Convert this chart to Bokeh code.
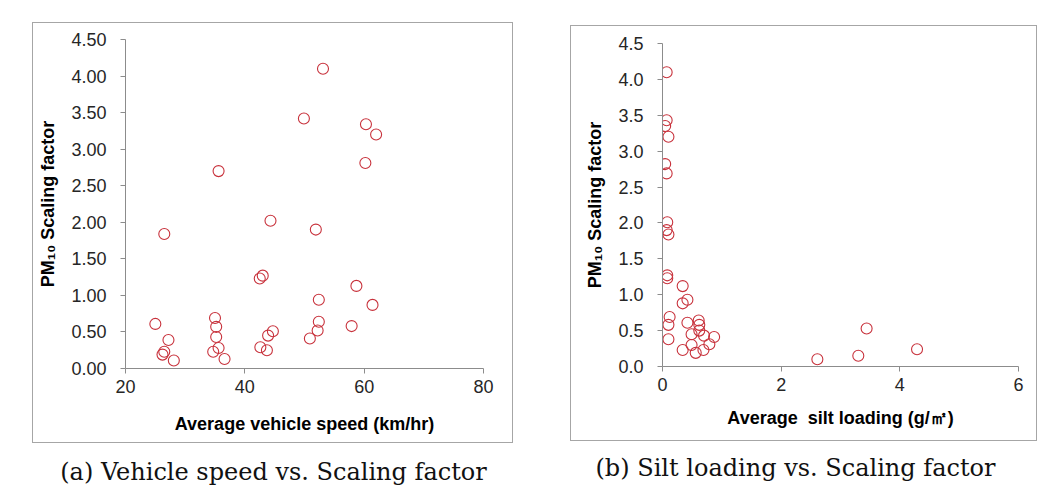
from bokeh.plotting import figure
from bokeh.models import Range1d, FixedTicker, NumeralTickFormatter, Spacer, Label
from bokeh.layouts import row, column
from bokeh.embed import file_html
from bokeh.resources import INLINE

# (a) vehicle speed vs scaling factor
speed = [53.1, 49.9, 60.3, 62.0, 60.2, 35.6, 44.3, 51.9, 26.5, 42.5, 43.0, 58.7, 52.4,
         61.4, 25.0, 35.0, 35.2, 35.2, 34.7, 35.6, 36.6, 27.2, 26.2, 26.5, 28.1, 42.6,
         43.7, 43.9, 44.7, 50.9, 52.4, 52.2, 57.9]
sf_speed = [4.10, 3.42, 3.34, 3.20, 2.81, 2.70, 2.02, 1.90, 1.84, 1.23, 1.27, 1.13, 0.94,
            0.87, 0.61, 0.69, 0.57, 0.43, 0.23, 0.28, 0.13, 0.39, 0.19, 0.23, 0.11, 0.29,
            0.25, 0.45, 0.51, 0.41, 0.64, 0.52, 0.58]

# (b) silt loading vs scaling factor
silt = [0.07, 0.07, 0.045, 0.10, 0.045, 0.07, 0.08, 0.07, 0.10, 0.08, 0.08, 0.34, 0.42,
        0.34, 0.12, 0.10, 0.10, 0.42, 0.61, 0.62, 0.62, 0.49, 0.70, 0.87, 0.34, 0.49,
        0.56, 0.69, 0.79, 2.61, 3.30, 3.44, 4.29]
sf_silt = [4.10, 3.43, 3.35, 3.20, 2.82, 2.69, 2.01, 1.90, 1.84, 1.27, 1.23, 1.12, 0.93,
           0.88, 0.69, 0.58, 0.38, 0.61, 0.64, 0.58, 0.50, 0.45, 0.43, 0.41, 0.23, 0.30,
           0.19, 0.23, 0.31, 0.10, 0.15, 0.53, 0.24]

xticks_a = [20, 40, 60, 80]
yticks_a = [0, 0.5, 1.0, 1.5, 2.0, 2.5, 3.0, 3.5, 4.0, 4.5]
xticks_b = [0, 2, 4, 6]
yticks_b = [0, 0.5, 1.0, 1.5, 2.0, 2.5, 3.0, 3.5, 4.0, 4.5]

xlabel_a = "Average vehicle speed (km/hr)"
xlabel_b = "Average\u00a0 silt loading (g/\u33a1)"
ylabel = "PM\u2081\u2080 Scaling factor"
caption_a = "(a) Vehicle speed vs. Scaling factor"
caption_b = "(b) Silt loading vs. Scaling factor"

AX = "#8c8c8c"
TXT = "#262626"
RED = "#C8323C"


def panel(xs, ys, xr, yr, xt, yt, yfmt, xlabel, fw, fh, bl, br, bt, bb, xls):
    p = figure(frame_width=fw, frame_height=fh,
               x_range=Range1d(*xr), y_range=Range1d(*yr),
               output_backend="svg", toolbar_location=None,
               min_border_left=bl, min_border_right=br,
               min_border_top=bt, min_border_bottom=bb)
    p.scatter(xs, ys, marker="circle", size=11, fill_color=None,
              line_color=RED, line_width=1.1)
    p.outline_line_color = None
    p.border_fill_color = None
    p.background_fill_color = None
    p.xgrid.visible = False
    p.ygrid.visible = False
    for ax in (p.xaxis[0], p.yaxis[0]):
        ax.axis_line_color = AX
        ax.major_tick_line_color = AX
        ax.major_tick_out = 5
        ax.major_tick_in = 0
        ax.minor_tick_line_color = None
        ax.major_label_text_font = "Liberation Sans"
        ax.major_label_text_font_size = "18px"
        ax.major_label_text_color = TXT
        ax.axis_label_text_font = "Liberation Sans"
        ax.axis_label_text_font_size = "18px"
        ax.axis_label_text_font_style = "bold"
        ax.axis_label_text_color = "#000000"
    p.xaxis.ticker = FixedTicker(ticks=xt)
    p.yaxis.ticker = FixedTicker(ticks=yt)
    p.yaxis.formatter = NumeralTickFormatter(format=yfmt)
    p.xaxis.major_label_standoff = 6
    p.yaxis.major_label_standoff = 14
    p.xaxis.axis_label = xlabel
    p.yaxis.axis_label = ylabel
    p.xaxis.axis_label_standoff = xls
    p.yaxis.axis_label_standoff = 10
    p.styles = {"outline": "1px solid #a6a6a6", "outline-offset": "-1px"}
    return p


p1 = panel(speed, sf_speed, (20, 80), (0, 4.5), xticks_a, yticks_a, "0.00", xlabel_a,
           358, 329, 93, 30, 17, 75, 18)
p2 = panel(silt, sf_silt, (0, 6), (0, 4.5), xticks_b, yticks_b, "0.0", xlabel_b,
           356, 323, 92, 19, 18, 75, 14)

cap = figure(width=1045, height=46, x_range=Range1d(0, 1045), y_range=Range1d(0, 46),
             output_backend="svg", toolbar_location=None,
             x_axis_type=None, y_axis_type=None, min_border=0)
cap.outline_line_color = None
cap.xgrid.visible = False
cap.ygrid.visible = False
for txt, x, y in ((caption_a, 273, 18), (caption_b, 795, 22)):
    cap.add_layout(Label(x=x, y=y, text=txt, text_align="center", text_baseline="middle",
                         text_font="DejaVu Serif", text_font_size="24px",
                         text_color="#111111"))

top = row(Spacer(width=32), column(Spacer(height=22), p1), Spacer(width=57),
          column(Spacer(height=25), p2))
layout = column(top, cap)

open("out.html", "w").write(file_html(layout, INLINE))
